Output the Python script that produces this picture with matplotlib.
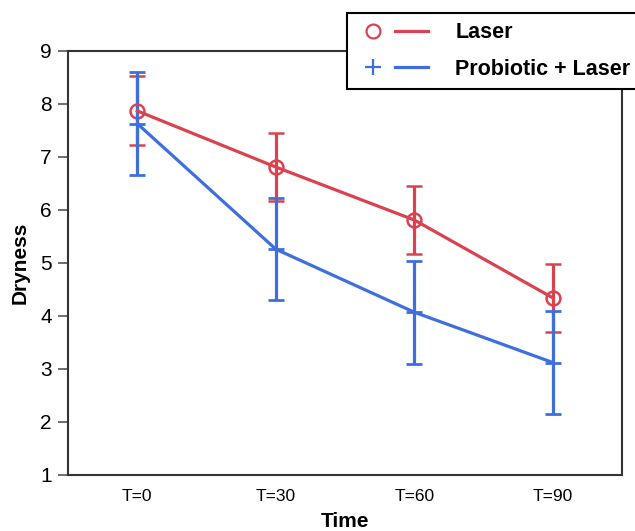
import numpy as np
import matplotlib.pyplot as plt
from matplotlib.lines import Line2D
from matplotlib.legend_handler import HandlerTuple

plt.rcParams['font.family'] = ['Liberation Sans', 'DejaVu Sans']

times = ['T=0', 'T=30', 'T=60', 'T=90']
laser = [7.87, 6.81, 5.81, 4.34]
laser_err = [0.65, 0.64, 0.65, 0.65]
probio = [7.63, 5.26, 4.07, 3.12]
probio_err = [0.97, 0.96, 0.97, 0.97]

red = '#d9424f'
blue = '#3f6fdf'

fig = plt.figure(figsize=(6.35, 5.31), dpi=100)
ax = fig.add_axes([0.107, 0.1055, 0.873, 0.7985])
x = np.arange(len(times))

ax.errorbar(x, laser, yerr=laser_err, color=red, lw=2.3, elinewidth=2.3,
            capsize=6.1, capthick=2.3, marker='o', ms=10, mfc='none', mew=1.8)
ax.errorbar(x, probio, yerr=probio_err, color=blue, lw=2.3, elinewidth=2.3,
            capsize=6.1, capthick=2.3, marker='+', ms=12, mew=2.0)

ax.set_xlim(-0.5, 3.5)
ax.set_ylim(1, 9)
ax.set_xticks(x)
ax.set_xticklabels(times, fontsize=12.5)
ax.set_yticks(range(1, 10))
ax.tick_params(axis='y', labelsize=15, length=7.5, width=1.2, color='#555555', pad=4)
ax.tick_params(axis='x', length=0, pad=10)
for s in ax.spines.values():
    s.set_linewidth(1.5)
    s.set_color('#333333')
ax.set_xlabel('Time', fontsize=15, fontweight='bold', labelpad=6)
ax.set_ylabel('Dryness', fontsize=15, fontweight='bold', labelpad=8)

h1 = (Line2D([], [], color=red, marker='o', ms=10, mfc='none', mew=1.6, ls='none'),
      Line2D([], [], color=red, lw=2.3))
h2 = (Line2D([], [], color=blue, marker='+', ms=11, mew=1.6, ls='none'),
      Line2D([], [], color=blue, lw=2.3))
leg = fig.legend([h1, h2], ['Laser', 'Probiotic + Laser'],
                 handler_map={tuple: HandlerTuple(ndivide=None, pad=0.26)},
                 loc='upper left', bbox_to_anchor=(0.546, 0.976),
                 fancybox=False, edgecolor='black', framealpha=1,
                 prop={'size': 15.5, 'weight': 'bold'}, handlelength=3.33,
                 handletextpad=1.26, borderpad=0.45, labelspacing=0.7,
                 borderaxespad=0)
leg.get_frame().set_linewidth(1.5)

fig.savefig('out.png', dpi=100)
